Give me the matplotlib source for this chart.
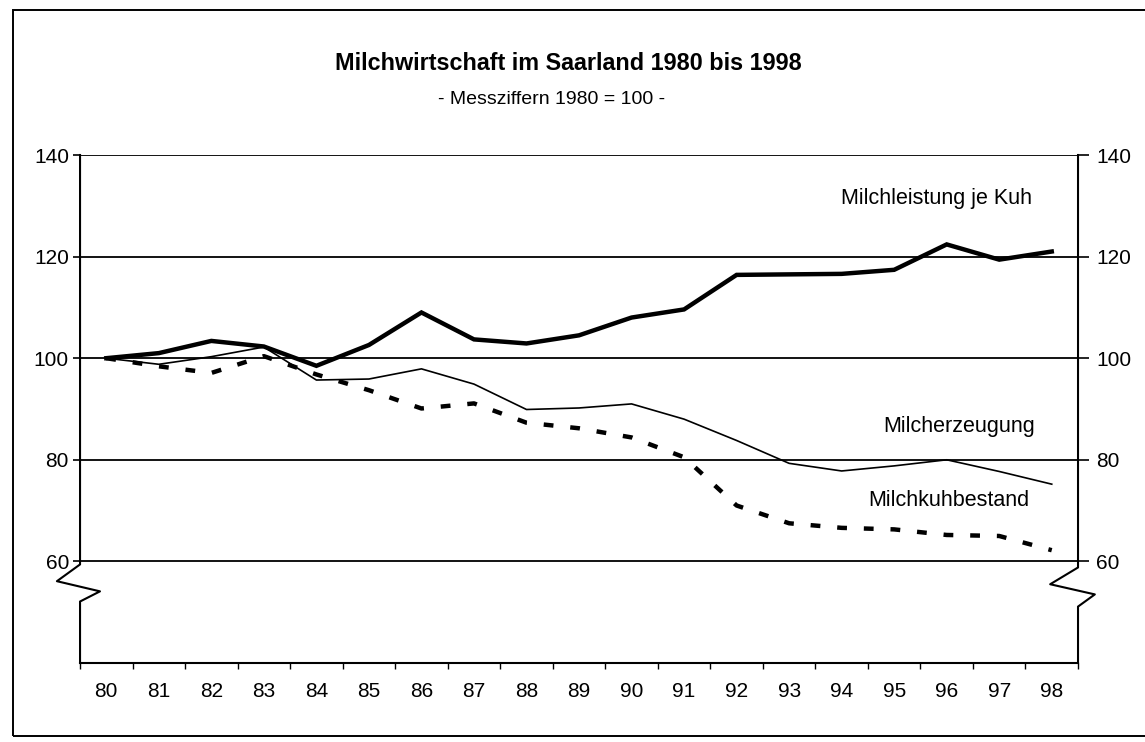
import matplotlib.pyplot as plt
from matplotlib.patches import Rectangle
import numpy as np

plt.rcParams['font.family'] = ['Liberation Sans', 'DejaVu Sans']

years = ['80', '81', '82', '83', '84', '85', '86', '87', '88', '89',
         '90', '91', '92', '93', '94', '95', '96', '97', '98']
leistung = [100, 101, 103.4, 102.3, 98.5, 102.6, 109, 103.7, 102.9, 104.5,
            108, 109.6, 116.4, 116.5, 116.6, 117.4, 122.4, 119.4, 121]
erzeugung = [100, 98.8, 100.3, 102.2, 95.7, 95.9, 97.9, 94.9, 89.9, 90.2,
             91, 88, 83.8, 79.3, 77.8, 78.8, 80, 77.7, 75.2]
bestand = [100, 98.4, 97.1, 100.4, 96.8, 93.7, 90.1, 91.1, 87.3, 86.2,
           84.4, 80.5, 71, 67.5, 66.6, 66.3, 65.2, 65, 62.2]
yticks = [60, 80, 100, 120, 140]

fig = plt.figure(figsize=(11.45, 7.42), dpi=100)
ax = fig.add_axes([0.0699, 0.1065, 0.8716, 0.6846])
x = np.arange(len(years))

ax.plot(x, leistung, color='black', lw=3.2, solid_joinstyle='miter')
ax.plot(x, erzeugung, color='black', lw=1.2)
ax.plot(x, bestand, color='black', lw=3.2, linestyle=(0, (2.2, 3.8)))

ax.set_xlim(-0.5, len(years) - 0.5)
ax.set_ylim(40, 140)

# horizontal lines at the tick values
for v in yticks:
    ax.axhline(v, color='black', lw=1.3, zorder=0)

ax.set_yticks(yticks)
ax.tick_params(axis='y', direction='out', length=5, width=1.2, pad=3, labelsize=15)
ax.set_xticks(x)
ax.set_xticklabels(years)
ax.set_xticks(np.arange(len(years) + 1) - 0.5, minor=True)
ax.tick_params(axis='x', which='major', length=0, pad=14, labelsize=15)
ax.tick_params(axis='x', which='minor', direction='out', length=4, width=1.0)

ax2 = ax.twinx()
ax2.set_ylim(40, 140)
ax2.set_yticks(yticks)
ax2.tick_params(axis='y', direction='out', length=8, width=1.2, pad=5, labelsize=15)

for a in (ax, ax2):
    for s in ('left', 'right', 'top'):
        a.spines[s].set_visible(False)
ax2.spines['bottom'].set_visible(False)
ax.spines['bottom'].set_linewidth(1.5)

# broken y axes with zigzag marks
lx, rx = -0.5, len(years) - 0.5
ax.plot([lx, lx, lx - 0.44, lx + 0.38, lx, lx], [140, 59.4, 56.1, 54.1, 52.1, 40],
        color='black', lw=1.5, clip_on=False)
ax.plot([rx, rx, rx - 0.53, rx + 0.32, rx, rx], [140, 58.8, 55.5, 53.5, 51.1, 40],
        color='black', lw=1.5, clip_on=False)

ax.text(13.98, 131.5, 'Milchleistung je Kuh', fontsize=15.5, va='center', ha='left')
ax.text(14.8, 86.5, 'Milcherzeugung', fontsize=15.5, va='center', ha='left')
ax.text(14.5, 72, 'Milchkuhbestand', fontsize=15.5, va='center', ha='left')

fig.text(0.496, 0.915, 'Milchwirtschaft im Saarland 1980 bis 1998',
         fontsize=16.8, fontweight='bold', ha='center', va='center')
fig.text(0.482, 0.866, '- Messziffern 1980 = 100 -', fontsize=14,
         ha='center', va='center')

fig.add_artist(Rectangle((0.0114, 0.008), 1.0, 0.9785, transform=fig.transFigure,
                         fill=False, edgecolor='black', lw=1.4))

fig.savefig('out.png', dpi=100)
